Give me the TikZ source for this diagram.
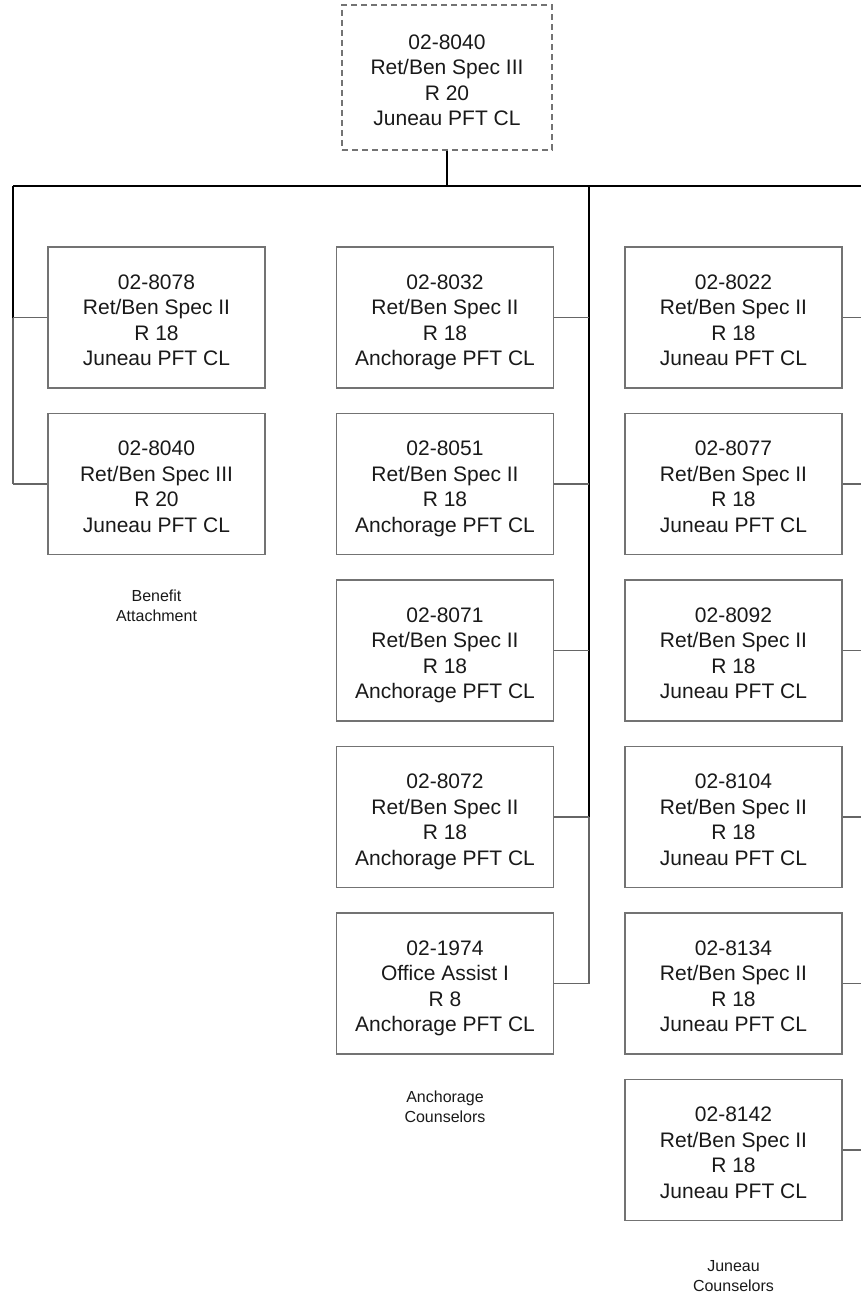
\documentclass[tikz,border=0pt]{standalone}
\usepackage{fontspec}
\setmainfont{Liberation Sans}
\newcommand{\poslines}[1]{\raisebox{-5pt}[\height][\depth]{\begin{tabular}{@{}c@{}}#1\end{tabular}}}
\begin{document}
\begin{tikzpicture}[x=1pt,y=-1pt,
  posbox/.style={draw=black!55, line width=1.2pt, minimum width=217pt, minimum height=141pt, inner sep=0pt, align=center, font=\fontsize{21}{25.5}\selectfont, text=black!90},
  topbox/.style={posbox, dash pattern=on 6pt off 4pt, draw=black!55, minimum width=210pt, minimum height=145pt},
  bus/.style={draw=black, line width=1.6pt},
  branch/.style={draw=black!60, line width=1.2pt},
  grp/.style={align=center, font=\fontsize{16}{20}\selectfont, text=black!90}]
\useasboundingbox (0,0) rectangle (861,1298);
\node[topbox] (top) at (447,77.5) {\poslines{02-8040\\Ret/Ben Spec III\\R 20\\Juneau PFT CL}};
% left column
\node[posbox] (l1) at (156.5,317.5) {\poslines{02-8078\\Ret/Ben Spec II\\R 18\\Juneau PFT CL}};
\node[posbox] (l2) at (156.5,484) {\poslines{02-8040\\Ret/Ben Spec III\\R 20\\Juneau PFT CL}};
\node[grp] (lg) at (156.5,606) {Benefit\\Attachment};
% middle column
\node[posbox] (m1) at (445,317.5) {\poslines{02-8032\\Ret/Ben Spec II\\R 18\\Anchorage PFT CL}};
\node[posbox] (m2) at (445,484) {\poslines{02-8051\\Ret/Ben Spec II\\R 18\\Anchorage PFT CL}};
\node[posbox] (m3) at (445,650.5) {\poslines{02-8071\\Ret/Ben Spec II\\R 18\\Anchorage PFT CL}};
\node[posbox] (m4) at (445,817) {\poslines{02-8072\\Ret/Ben Spec II\\R 18\\Anchorage PFT CL}};
\node[posbox] (m5) at (445,983.5) {\poslines{02-1974\\Office Assist I\\R 8\\Anchorage PFT CL}};
\node[grp] (mg) at (445,1107) {Anchorage\\Counselors};
% right column
\node[posbox] (r1) at (733.5,317.5) {\poslines{02-8022\\Ret/Ben Spec II\\R 18\\Juneau PFT CL}};
\node[posbox] (r2) at (733.5,484) {\poslines{02-8077\\Ret/Ben Spec II\\R 18\\Juneau PFT CL}};
\node[posbox] (r3) at (733.5,650.5) {\poslines{02-8092\\Ret/Ben Spec II\\R 18\\Juneau PFT CL}};
\node[posbox] (r4) at (733.5,817) {\poslines{02-8104\\Ret/Ben Spec II\\R 18\\Juneau PFT CL}};
\node[posbox] (r5) at (733.5,983.5) {\poslines{02-8134\\Ret/Ben Spec II\\R 18\\Juneau PFT CL}};
\node[posbox] (r6) at (733.5,1150) {\poslines{02-8142\\Ret/Ben Spec II\\R 18\\Juneau PFT CL}};
\node[grp] (rg) at (733.5,1276) {Juneau\\Counselors};
% bus
\coordinate (busL) at (13,186);
\coordinate (busM) at (589,186);
\coordinate (busR) at (880,186);
\coordinate (busT) at (top.south |- busL);
\draw[bus] (top.south) -- (busT);
\draw[bus] (busL) -- (busR);
\draw[bus] (busL) -- (busL |- l1.west);
\draw[bus] (busM) -- (busM |- m4.east);
% left branches
\draw[branch] (busL |- l1.west) -- (busL |- l2.west);
\draw[branch] (busL |- l1.west) -- (l1.west);
\draw[branch] (busL |- l2.west) -- (l2.west);
% middle branches
\draw[branch] (busM |- m4.east) -- (busM |- m5.east);
\foreach \n in {m1,m2,m3,m4,m5} \draw[branch] (\n.east) -- (busM |- \n.east);
% right branches (line off page)
\foreach \n in {r1,r2,r3,r4,r5,r6} \draw[branch] (\n.east) -- (busR |- \n.east);
\end{tikzpicture}
\end{document}
